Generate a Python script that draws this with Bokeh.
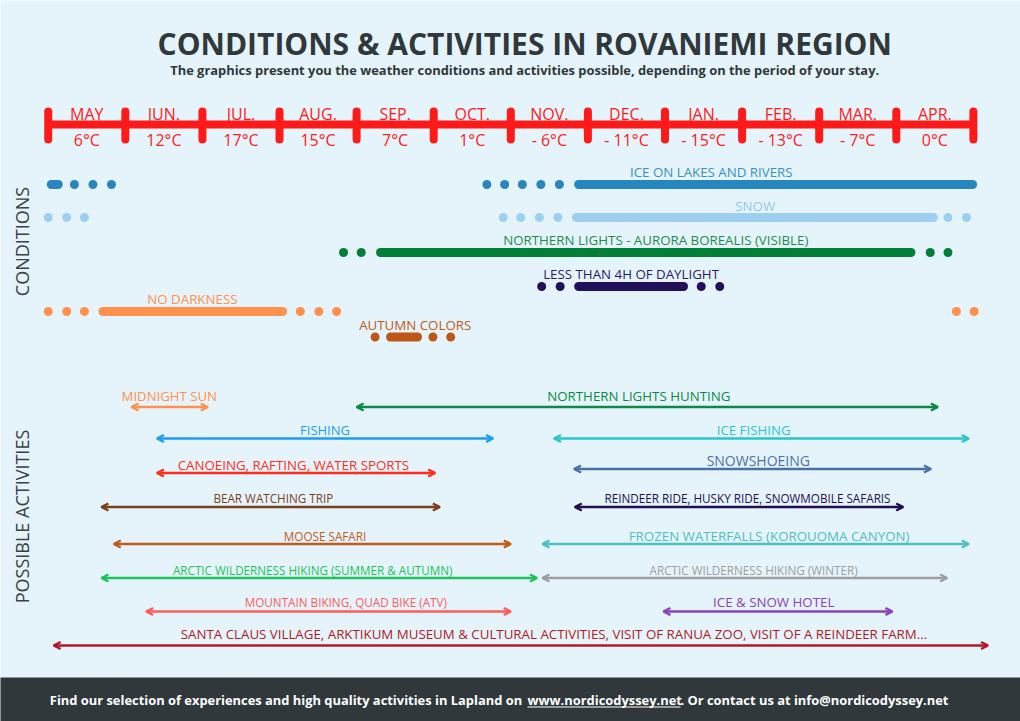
from bokeh.plotting import figure
from bokeh.models import Range1d, Arrow, OpenHead
from bokeh.core.properties import value
from bokeh.embed import file_html
from bokeh.resources import INLINE

# ---------------- data ----------------
months = ["MAY", "JUN.", "JUL.", "AUG.", "SEP.", "OCT.", "NOV.", "DEC.", "JAN.", "FEB.", "MAR.", "APR."]
temps = ["6°C", "12°C", "17°C", "15°C", "7°C", "1°C", "- 6°C", "- 11°C", "- 15°C", "- 13°C", "- 7°C", "0°C"]

# conditions (x in months since 1 May)
cond_labels = ["ICE ON LAKES AND RIVERS", "SNOW", "NORTHERN LIGHTS - AURORA BOREALIS (VISIBLE)",
               "LESS THAN 4H OF DAYLIGHT", "NO DARKNESS", "AUTUMN COLORS"]
cond_bar_start = [[0.04, 6.88], [6.85], [4.31], [6.88], [0.71], [4.44]]
cond_bar_end = [[0.13, 11.99], [11.48], [11.19], [8.24], [3.04], [4.79]]
cond_dots = [
    [0.34, 0.58, 0.82, 5.69, 5.92, 6.15, 6.39, 6.63],
    [0.00, 0.24, 0.47, 5.90, 6.13, 6.37, 6.61, 11.67, 11.91],
    [3.83, 4.06, 11.44, 11.67],
    [6.40, 6.64, 8.47, 8.71],
    [0.00, 0.24, 0.47, 3.27, 3.51, 3.74, 11.78, 12.01],
    [4.24, 4.99, 5.22],
]
cond_label_x = [8.60, 9.17, 7.88, 7.56, 1.87, 4.76]

# activities
act_labels = ["MIDNIGHT SUN", "NORTHERN LIGHTS HUNTING", "FISHING", "ICE FISHING",
              "CANOEING, RAFTING, WATER SPORTS", "SNOWSHOEING", "BEAR WATCHING TRIP",
              "REINDEER RIDE, HUSKY RIDE, SNOWMOBILE SAFARIS", "MOOSE SAFARI",
              "FROZEN WATERFALLS (KOROUOMA CANYON)", "ARCTIC WILDERNESS HIKING (SUMMER & AUTUMN)",
              "ARCTIC WILDERNESS HIKING (WINTER)", "MOUNTAIN BIKING, QUAD BIKE (ATV)",
              "ICE & SNOW HOTEL",
              "SANTA CLAUS VILLAGE, ARKTIKUM MUSEUM & CULTURAL ACTIVITIES, VISIT OF RANUA ZOO, VISIT OF A REINDEER FARM..."]
act_start = [1.08, 4.00, 1.41, 6.56, 1.41, 6.82, 0.69, 6.83, 0.85, 6.41, 0.69, 6.41, 1.27, 7.98, 0.07]
act_end = [2.07, 11.54, 5.77, 11.94, 5.02, 11.45, 5.08, 11.09, 6.00, 11.94, 6.34, 11.66, 6.00, 10.95, 12.19]
act_label_x = [1.57, 7.66, 3.59, 9.15, 3.18, 9.21, 2.92, 9.07, 3.59, 9.35, 3.43, 9.15, 3.86, 9.41, 6.56]

footer_1 = "Find our selection of experiences and high quality activities in Lapland on "
footer_url = "www.nordicodyssey.net"
footer_2 = ". Or contact us at info@nordicodyssey.net"

# ---------------- styles / layout ----------------
BG = "#e5f4fa"
DARK = "#30383b"
RED = "#ff1a1a"
cond_colors = ["#2886be", "#9dcfee", "#027f37", "#22115a", "#ff914d", "#bd5617"]
cond_text_colors = ["#3a8fc4", "#8fcaec", "#1f8c4c", "#2b1b5e", "#ff914d", "#c05a20"]
cond_row_y = [184, 217, 252, 286, 311, 336.5]
cond_label_y = [171.5, 205, 239.5, 273.5, 298.5, 324]

act_colors = ["#ff914d", "#0b8a45", "#1c9df5", "#28c5cf", "#ff2e1a", "#4a70a8", "#7b3f1d",
              "#1f0e52", "#c15a1d", "#4ebfc4", "#1cc35a", "#9e9e9e", "#ff5b5b", "#8a40c0", "#b01a24"]
act_font = [13.2, 13.3, 13, 13.3, 13.3, 14, 11.7, 11.7, 11.7, 13.3, 11.7, 11.7, 11.7, 13.3, 13.3]
act_y = [406.5, 406.5, 438, 438, 472.5, 468.5, 506.5, 506.5, 543.5, 543.5, 577.5, 577.5, 611, 611, 645]
act_label_y = [395, 395, 429, 429, 464, 460, 497, 497, 535.5, 535, 569, 569, 601, 601, 633]

FONT = value("Open Sans")

p = figure(width=1020, height=721,
           x_range=Range1d(-0.619, 12.611), y_range=Range1d(721, 0),
           output_backend="svg", toolbar_location=None,
           x_axis_location=None, y_axis_location=None,
           min_border=0, background_fill_color=BG, border_fill_color=BG,
           outline_line_color=None)
p.grid.visible = False

# title
p.text(x=[6.18], y=[43], text=["CONDITIONS & ACTIVITIES IN ROVANIEMI REGION"],
       text_font=FONT, text_font_style="bold", text_font_size="30px", text_color=DARK,
       text_align="center", text_baseline="middle")
p.text(x=[6.18], y=[69], text=["The graphics present you the weather conditions and activities possible, depending on the period of your stay."],
       text_font=FONT, text_font_style="bold", text_font_size="12.9px", text_color=DARK,
       text_align="center", text_baseline="middle")

# timeline
bounds = list(range(len(months) + 1))
p.segment(x0=[bounds[0]], x1=[bounds[-1]], y0=[124], y1=[124], line_color=RED, line_width=8)
p.segment(x0=bounds, x1=bounds, y0=[111] * len(bounds), y1=[139] * len(bounds),
          line_color=RED, line_width=8, line_cap="round")
mid = [i + 0.5 for i in range(len(months))]
p.text(x=mid, y=[113] * len(months), text=months, text_font=FONT, text_font_size="16px",
       text_color=RED, text_align="center", text_baseline="middle")
p.text(x=mid, y=[139.5] * len(temps), text=temps, text_font=FONT, text_font_size="16px",
       text_color=RED, text_align="center", text_baseline="middle")

# conditions
for i, lab in enumerate(cond_labels):
    y = cond_row_y[i]
    c = cond_colors[i]
    n = len(cond_bar_start[i])
    p.segment(x0=cond_bar_start[i], x1=cond_bar_end[i], y0=[y] * n, y1=[y] * n,
              line_color=c, line_width=9, line_cap="round")
    p.scatter(x=cond_dots[i], y=[y] * len(cond_dots[i]), size=9, fill_color=c, line_color=None)
    p.text(x=[cond_label_x[i]], y=[cond_label_y[i]], text=[lab], text_font=FONT,
           text_font_size="13.3px", text_color=cond_text_colors[i],
           text_align="center", text_baseline="middle")

# activities
for i, lab in enumerate(act_labels):
    c = act_colors[i]
    y = act_y[i]
    p.add_layout(Arrow(x_start=act_start[i], x_end=act_end[i], y_start=y, y_end=y,
                       line_color=c, line_width=2.5,
                       start=OpenHead(size=7, line_color=c, line_width=2.5),
                       end=OpenHead(size=7, line_color=c, line_width=2.5)))
    p.text(x=[act_label_x[i]], y=[act_label_y[i]], text=[lab], text_font=FONT,
           text_font_size=f"{act_font[i]}px", text_color=c,
           text_align="center", text_baseline="middle")

# side titles
p.text(x=[-0.346], y=[241], text=["CONDITIONS"], angle=1.5708, text_font=FONT,
       text_font_size="18px", text_color="#3a4044", text_align="center", text_baseline="middle")
p.text(x=[-0.346], y=[516], text=["POSSIBLE ACTIVITIES"], angle=1.5708, text_font=FONT,
       text_font_size="18px", text_color="#3a4044", text_align="center", text_baseline="middle")

# footer
p.quad(left=[-0.7], right=[12.7], top=[677], bottom=[722], fill_color=DARK, line_color=None)
p.text(x=[6.19], y=[699], text=[footer_1], text_font=FONT, text_font_style="bold",
       text_font_size="12.9px", text_color="white", text_align="right", text_baseline="middle")
p.text(x=[6.216], y=[699], text=[footer_url], text_font=FONT, text_font_style="bold",
       text_font_size="12.9px", text_color="white", text_align="left", text_baseline="middle")
p.segment(x0=[6.216], x1=[8.20], y0=[706.5], y1=[706.5], line_color="white", line_width=1)
p.text(x=[8.20], y=[699], text=[footer_2], text_font=FONT, text_font_style="bold",
       text_font_size="12.9px", text_color="white", text_align="left", text_baseline="middle")

open("out.html", "w").write(file_html(p, INLINE))
